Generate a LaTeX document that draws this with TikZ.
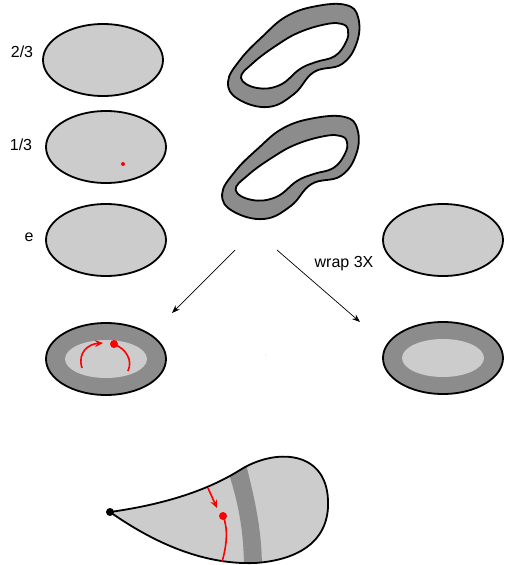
\documentclass[tikz,border=0pt]{standalone}
\usepackage{fontspec}
\setmainfont{Liberation Sans}
\usetikzlibrary{positioning, arrows.meta, shapes.geometric}
\definecolor{discGray}{HTML}{CCCCCC}
\definecolor{ringGray}{HTML}{8C8C8C}
\definecolor{markRed}{HTML}{FF0000}

\begin{document}
\begin{tikzpicture}[x=1pt, y=-1pt,
    disc/.style={ellipse, draw, line width=1.8pt, fill=discGray, minimum width=120pt, minimum height=72pt, inner sep=0pt},
    ring/.style={disc, fill=ringGray},
    hole/.style={ellipse, fill=discGray, minimum width=82pt, minimum height=38pt, inner sep=0pt},
    band/.style={draw, line width=1.8pt, fill=ringGray, even odd rule},
    lbl/.style={font=\fontsize{16}{16}\selectfont},
    arr/.style={-{Stealth[length=8pt, width=6pt]}, line width=0.7pt},
    redarr/.style={-{Stealth[length=8pt, width=7pt]}, line width=1.6pt, markRed},
    redline/.style={line width=1.6pt, markRed},
    dot/.style={circle, fill=markRed, inner sep=0pt, minimum size=#1},
  ]
    \useasboundingbox (0,0) rectangle (504,565);

    % left column: the three discs
    \node[disc] (twothirds) at (103,60)  {};
    \node[disc] (onethird)  at (106,147) {};
    \node[disc] (unit)      at (106,240) {};
    \node[lbl] at (22,52)  {2/3};
    \node[lbl] at (21,145) {1/3};
    \node[lbl] at (29,237) {e};
    \node[dot=4pt] (pt) at (123,164) {};

    % the two bands
    \def\bandpath{
      plot[smooth cycle, tension=0.7] coordinates {(228,82) (240,60) (262,37) (287,16) (317,6) (346,5) (358,17) (357,42) (342,64) (314,72) (294,94) (268,107) (238,99)}
      plot[smooth cycle, tension=0.7] coordinates {(241,78) (253,63) (277,45) (300,32) (327,24) (342,24) (348,30) (346,42) (335,56) (316,62) (300,69) (280,85) (257,88)}
    }
    \path[band] \bandpath;
    \begin{scope}[shift={(-15,112)}, xscale=1.04]
      \path[band] \bandpath;
    \end{scope}

    % right column
    \node[disc] (target) at (443,240) {};
    \node[ring] (wrapped) at (443,358) {};
    \node[hole] at (wrapped.center) {};

    % maps
    \coordinate (src1) at (235,250);
    \coordinate (src2) at (277,250);
    \node[ring] (lifted) at (106,359) {};
    \node[hole] (liftin) at (lifted.center) {};
    \draw[arr] (src1) -- (172,313);
    \draw[arr] (src2) -- (360,322);
    \node[lbl] at (344,264) {wrap 3X};
    \fill[markRed!60] (266,355) circle (0.4pt);

    % path inside the lifted disc
    \node[dot=8pt] (top) at (114,344) {};
    \coordinate (a0) at (82,368);
    \coordinate (a1) at (128,371);
    \draw[redarr] (a0) .. controls (77,352) and (89,344) .. (103,343);
    \draw[redline] (top.center) .. controls (126,349) and (133,360) .. (a1);

    % the cone at the bottom
    \def\conepath{(110,512) .. controls (160,505) and (205,492) .. (240,470)
      .. controls (275,448) and (326,450) .. (328,500)
      .. controls (330,540) and (300,560) .. (255,563)
      .. controls (200,565) and (150,540) .. (110,512) -- cycle}
    \fill[discGray] \conepath;
    \begin{scope}
      \clip \conepath;
      \fill[ringGray] (226,465) -- (245,460) .. controls (255,500) and (262,530) .. (262,570)
        -- (244,570) .. controls (244,530) and (238,500) .. (226,465) -- cycle;
    \end{scope}
    \draw[line width=1.8pt] \conepath;
    \node[circle, fill=black, inner sep=0pt, minimum size=8pt] (apex) at (110,512) {};
    \node[dot=8pt] (mid) at (223,516) {};
    \coordinate (m0) at (208,488);
    \coordinate (m1) at (222,562);
    \draw[redarr] (m0) -- (217,508);
    \draw[redline] (mid.center) .. controls (229,530) and (226,548) .. (m1);
\end{tikzpicture}
\end{document}
